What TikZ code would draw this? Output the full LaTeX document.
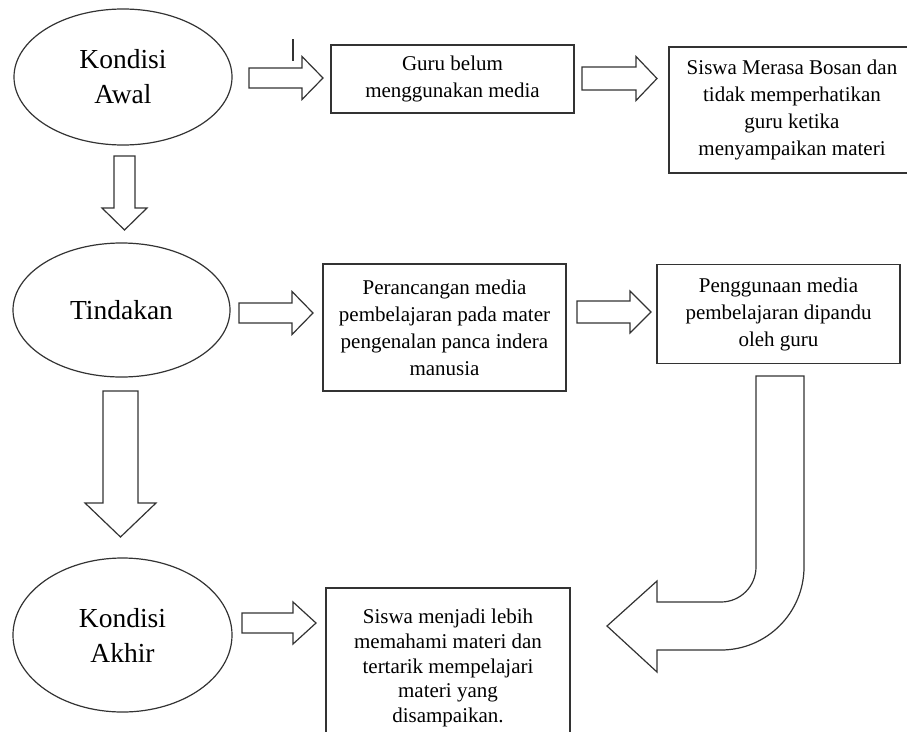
\documentclass[tikz,border=0pt]{standalone}
\usepackage{fontspec}
\setmainfont{Liberation Serif}
\usetikzlibrary{shapes.geometric}
\newcommand{\rblock}[6]{% x0, head start, tip, yc, shaft half, head half
  \draw[blockarrow] ({#1},{#4-#5}) -- ({#2},{#4-#5}) -- ({#2},{#4-#6}) -- ({#3},{#4})
    -- ({#2},{#4+#6}) -- ({#2},{#4+#5}) -- ({#1},{#4+#5}) -- cycle;}
\newcommand{\dblock}[6]{% xc, y0, head start, tip, shaft half, head half
  \draw[blockarrow] ({#1-#5},{#2}) -- ({#1-#5},{#3}) -- ({#1-#6},{#3}) -- ({#1},{#4})
    -- ({#1+#6},{#3}) -- ({#1+#5},{#3}) -- ({#1+#5},{#2}) -- cycle;}
\begin{document}
\begin{tikzpicture}[x=1pt,y=-1pt,
  lw/.style={line width=1.2pt, draw=black!80},
  ell/.style={lw, ellipse, inner sep=0pt, align=center, font=\fontsize{27.5}{35}\selectfont},
  box/.style={lw, rectangle, inner sep=0pt, align=center, font=\fontsize{21}{27}\selectfont},
  blockarrow/.style={lw, fill=white, line join=miter}]
\useasboundingbox (0,0) rectangle (907,731);
\clip (0,0) rectangle (907,731);

% ellipses
\node[ell, minimum width=218pt, minimum height=136pt] (e1) at (123,77) {Kondisi\\Awal};
\node[ell, minimum width=217pt, minimum height=134pt] (e2) at (121.5,310) {Tindakan};
\node[ell, minimum width=219pt, minimum height=154pt] (e3) at (122.5,635) {Kondisi\\Akhir};

% boxes
\node[box, minimum width=243pt, minimum height=68pt] (b1) at (452.5,79) {Guru belum\\menggunakan media};
\node[box, minimum width=246pt, minimum height=126pt] (b2) at (792,110) {Siswa Merasa Bosan dan\\tidak memperhatikan\\guru ketika\\menyampaikan materi};
\node[box, minimum width=243pt, minimum height=127pt] (b3) at (444.5,327.5) {Perancangan media\\pembelajaran pada mater\\pengenalan panca indera\\manusia};
\node[box, minimum width=243pt, minimum height=99pt] (b4) at (778.5,314) {Penggunaan media\\pembelajaran dipandu\\oleh guru};
\node[box, minimum width=244pt, minimum height=160pt, font=\fontsize{21}{24.6}\selectfont] (b5) at (448,668) {Siswa menjadi lebih\\memahami materi dan\\tertarik mempelajari\\materi yang\\disampaikan.};

% right block arrows
\rblock{249}{302}{323}{78}{10}{21.5}
\rblock{582}{636}{657}{78.5}{11.5}{22}
\rblock{239}{292}{313}{313}{10}{21.5}
\rblock{577}{630}{651}{312}{11}{21}
\rblock{242}{293}{316}{623}{10}{21}

% down block arrows
\dblock{124.5}{156}{208}{230}{10.5}{22.5}
\dblock{120.5}{391}{503}{537}{17.5}{35.5}

% small mark
\coordinate (m1) at (293,39);
\coordinate (m2) at (293,61);
\draw[lw] (m1) -- (m2);

% bent arrow from b4 to b5
\draw[blockarrow] (756,376) -- (756,567) .. controls (756,586.3) and (740.3,602) .. (721,602)
  -- (657,602) -- (657,581) -- (607,626) -- (657,672) -- (657,650) -- (721,650)
  .. controls (766.8,650) and (804,612.8) .. (804,567) -- (804,376) -- cycle;
\end{tikzpicture}
\end{document}
